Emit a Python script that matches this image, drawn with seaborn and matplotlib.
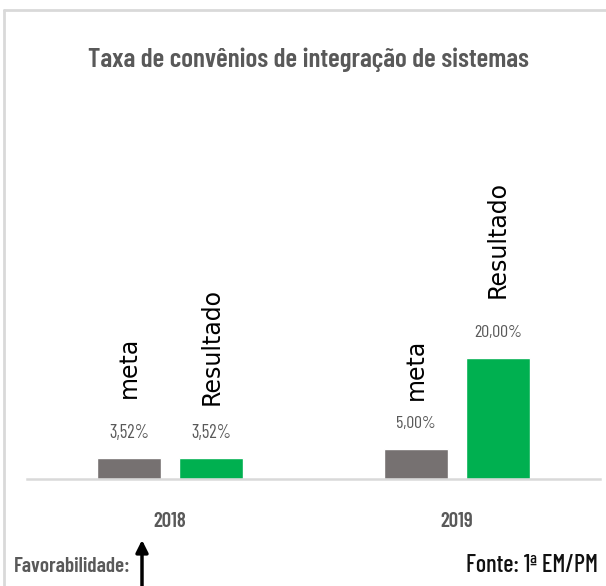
import matplotlib.pyplot as plt
import pandas as pd
import seaborn as sns
from matplotlib import font_manager
from matplotlib.lines import Line2D

years = ["2018", "2019"]
meta = [3.52, 5.00]
resultado = [3.52, 20.00]
series_names = ["meta", "Resultado"]
value_labels_meta = ["3,52%", "5,00%"]
value_labels_resultado = ["3,52%", "20,00%"]

df = pd.DataFrame(
    {
        "ano": years * 2,
        "serie": [series_names[0]] * 2 + [series_names[1]] * 2,
        "valor": meta + resultado,
    }
)

installed = {f.name for f in font_manager.fontManager.ttflist}
candidates = ["Barlow Condensed", "Roboto Condensed", "Archivo Narrow", "PT Sans Narrow"]
narrow = next((c for c in candidates if c in installed), "Liberation Sans")

sns.set_theme(style="white")
plt.rcParams["font.family"] = [narrow, "DejaVu Sans"]
plt.rcParams["font.weight"] = 500

W, H = 606, 586
fig = plt.figure(figsize=(W / 100, H / 100), dpi=100)
ax = fig.add_axes([27 / W, (H - 479) / H, 573 / W, 379 / H])
renderer = fig.canvas.get_renderer()


def fit(t, width_px):
    w = t.get_window_extent(renderer).width
    t.set_fontsize(t.get_fontsize() * width_px / w)


sns.barplot(
    data=df,
    x="ano",
    y="valor",
    hue="serie",
    palette=["#767171", "#00b050"],
    width=0.572,
    gap=0.22,
    saturation=1,
    legend=False,
    ax=ax,
)

ax.set_xlim(-0.5, 1.5)
ax.set_ylim(0, 379 / 6.05)
ax.set_xlabel("")
ax.set_ylabel("")
ax.set_yticks([])
for side in ["top", "left", "right"]:
    ax.spines[side].set_visible(False)
ax.spines["bottom"].set_color("#d9d9d9")
ax.spines["bottom"].set_linewidth(1.8)

probe = fig.text(0, 0, "2018", fontsize=14, fontweight=600)
fit(probe, 33)
tick_size = probe.get_fontsize()
probe.remove()
ax.tick_params(axis="x", length=0, pad=24, labelsize=tick_size, labelcolor="#595959")
for lbl in ax.get_xticklabels():
    lbl.set_fontweight(600)

labels = [value_labels_meta, value_labels_resultado]
name_offsets = [[60, 49], [53, 60]]
for container, name, texts, offs in zip(ax.containers, series_names, labels, name_offsets):
    for bar, txt, off in zip(container, texts, offs):
        cx = bar.get_x() + bar.get_width() / 2
        top = bar.get_height()
        v = ax.annotate(txt, (cx, top), xytext=(0, 25), textcoords="offset pixels",
                        ha="center", va="center", fontsize=14, color="#595959",
                        fontweight="normal")
        fit(v, 40 * len(txt) / 5)
        ax.annotate(name, (cx, top), xytext=(0, off), textcoords="offset pixels",
                    ha="center", va="bottom", rotation=90, fontsize=17,
                    color="black", family="DejaVu Sans", fontweight="normal")

title = fig.text(308 / W, 1 - 60 / H, "Taxa de convênios de integração de sistemas",
                 ha="center", va="center", fontsize=22, color="#595959",
                 fontweight=600)
fit(title, 440)
fav = fig.text(14 / W, 1 - 566 / H, "Favorabilidade:", ha="left", va="center",
               fontsize=15, color="#595959", fontweight=600)
fit(fav, 117)
fonte = fig.text(598 / W, 1 - 566 / H, "Fonte: 1ª EM/PM", ha="right", va="center",
                 fontsize=15, color="#111111")
fit(fonte, 132)

ax.annotate("", xy=(142 / W, 1 - 540 / H), xytext=(142 / W, 0),
            xycoords="figure fraction", textcoords="figure fraction",
            arrowprops=dict(arrowstyle="-|>", lw=2.5, color="black",
                            mutation_scale=18, shrinkA=0, shrinkB=0))

fig.add_artist(Line2D([4 / W, 4 / W], [0, 1 - 10 / H], color="#d9d9d9", lw=2))
fig.add_artist(Line2D([4 / W, 1], [1 - 10 / H, 1 - 10 / H], color="#d9d9d9", lw=2))

fig.savefig("out.png", dpi=100)
